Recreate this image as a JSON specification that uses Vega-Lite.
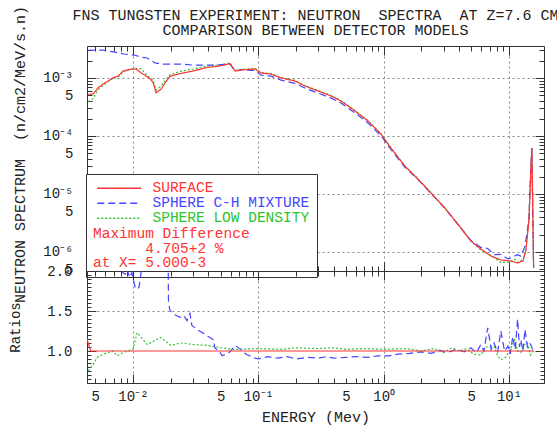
{
  "$schema": "https://vega.github.io/schema/vega-lite/v6.json",
  "background": "white",
  "padding": {"left": 8, "top": 5, "right": 5, "bottom": 1},
  "title": {
    "text": ["FNS TUNGSTEN EXPERIMENT: NEUTRON\u00a0\u00a0SPECTRA\u00a0\u00a0AT Z=7.6 CM", "COMPARISON BETWEEN DETECTOR MODELS"],
    "font": "Liberation Mono", "fontSize": 15, "fontWeight": "normal", "color": "#222",
    "anchor": "middle", "frame": "group", "offset": -33, "lineHeight": 15
  },
  "config": {
    "font": "Liberation Mono",
    "view": {"stroke": null},
    "axis": {
      "labelFont": "Liberation Mono", "labelFontSize": 14, "labelColor": "#222",
      "titleFont": "Liberation Mono", "titleFontSize": 15, "titleFontWeight": "normal", "titleColor": "#222",
      "tickColor": "#333", "domainColor": "#333", "gridColor": "#888", "gridDash": [2, 3], "gridWidth": 1,
      "labelOverlap": false, "labelFlush": false
    }
  },
  "bounds": "flush",
  "spacing": 0,
  "datasets": {
    "spectra": [
      {"E": 0.0044, "flux": 3.9e-4, "model": "SPHERE LOW DENSITY"},
      {"E": 0.0048, "flux": 4.4e-4, "model": "SPHERE LOW DENSITY"},
      {"E": 0.0053, "flux": 6.3e-4, "model": "SPHERE LOW DENSITY"},
      {"E": 0.0058, "flux": 7.5e-4, "model": "SPHERE LOW DENSITY"},
      {"E": 0.0063, "flux": 8.6e-4, "model": "SPHERE LOW DENSITY"},
      {"E": 0.0070, "flux": 1.0e-3, "model": "SPHERE LOW DENSITY"},
      {"E": 0.0076, "flux": 1.03e-3, "model": "SPHERE LOW DENSITY"},
      {"E": 0.0084, "flux": 1.29e-3, "model": "SPHERE LOW DENSITY"},
      {"E": 0.0094, "flux": 1.40e-3, "model": "SPHERE LOW DENSITY"},
      {"E": 0.0106, "flux": 1.46e-3, "model": "SPHERE LOW DENSITY"},
      {"E": 0.0116, "flux": 1.45e-3, "model": "SPHERE LOW DENSITY"},
      {"E": 0.0127, "flux": 1.17e-3, "model": "SPHERE LOW DENSITY"},
      {"E": 0.0137, "flux": 1.0e-3, "model": "SPHERE LOW DENSITY"},
      {"E": 0.0145, "flux": 9.0e-4, "model": "SPHERE LOW DENSITY"},
      {"E": 0.0153, "flux": 6.2e-4, "model": "SPHERE LOW DENSITY"},
      {"E": 0.0168, "flux": 7.3e-4, "model": "SPHERE LOW DENSITY"},
      {"E": 0.0181, "flux": 9.0e-4, "model": "SPHERE LOW DENSITY"},
      {"E": 0.0198, "flux": 1.15e-3, "model": "SPHERE LOW DENSITY"},
      {"E": 0.0238, "flux": 1.30e-3, "model": "SPHERE LOW DENSITY"},
      {"E": 0.0302, "flux": 1.43e-3, "model": "SPHERE LOW DENSITY"},
      {"E": 0.0383, "flux": 1.61e-3, "model": "SPHERE LOW DENSITY"},
      {"E": 0.0495, "flux": 1.68e-3, "model": "SPHERE LOW DENSITY"},
      {"E": 0.0595, "flux": 1.81e-3, "model": "SPHERE LOW DENSITY"},
      {"E": 0.0652, "flux": 1.35e-3, "model": "SPHERE LOW DENSITY"},
      {"E": 0.0728, "flux": 1.40e-3, "model": "SPHERE LOW DENSITY"},
      {"E": 0.0942, "flux": 1.46e-3, "model": "SPHERE LOW DENSITY"},
      {"E": 0.105, "flux": 1.25e-3, "model": "SPHERE LOW DENSITY"},
      {"E": 0.126, "flux": 1.19e-3, "model": "SPHERE LOW DENSITY"},
      {"E": 0.152, "flux": 1.02e-3, "model": "SPHERE LOW DENSITY"},
      {"E": 0.196, "flux": 9.1e-4, "model": "SPHERE LOW DENSITY"},
      {"E": 0.235, "flux": 7.4e-4, "model": "SPHERE LOW DENSITY"},
      {"E": 0.299, "flux": 6.1e-4, "model": "SPHERE LOW DENSITY"},
      {"E": 0.380, "flux": 5.0e-4, "model": "SPHERE LOW DENSITY"},
      {"E": 0.456, "flux": 4.1e-4, "model": "SPHERE LOW DENSITY"},
      {"E": 0.590, "flux": 2.75e-4, "model": "SPHERE LOW DENSITY"},
      {"E": 0.749, "flux": 1.85e-4, "model": "SPHERE LOW DENSITY"},
      {"E": 0.951, "flux": 1.10e-4, "model": "SPHERE LOW DENSITY"},
      {"E": 1.14, "flux": 6.3e-5, "model": "SPHERE LOW DENSITY"},
      {"E": 1.47, "flux": 3.1e-5, "model": "SPHERE LOW DENSITY"},
      {"E": 1.87, "flux": 1.85e-5, "model": "SPHERE LOW DENSITY"},
      {"E": 2.38, "flux": 1.06e-5, "model": "SPHERE LOW DENSITY"},
      {"E": 3.07, "flux": 5.8e-6, "model": "SPHERE LOW DENSITY"},
      {"E": 3.90, "flux": 3.05e-6, "model": "SPHERE LOW DENSITY"},
      {"E": 4.95, "flux": 1.55e-6, "model": "SPHERE LOW DENSITY"},
      {"E": 5.95, "flux": 1.08e-6, "model": "SPHERE LOW DENSITY"},
      {"E": 7.15, "flux": 8.8e-7, "model": "SPHERE LOW DENSITY"},
      {"E": 8.59, "flux": 6.6e-7, "model": "SPHERE LOW DENSITY"},
      {"E": 10.3, "flux": 6.7e-7, "model": "SPHERE LOW DENSITY"},
      {"E": 11.1, "flux": 7.5e-7, "model": "SPHERE LOW DENSITY"},
      {"E": 11.7, "flux": 6.6e-7, "model": "SPHERE LOW DENSITY"},
      {"E": 12.9, "flux": 7.4e-7, "model": "SPHERE LOW DENSITY"},
      {"E": 13.6, "flux": 1.08e-6, "model": "SPHERE LOW DENSITY"},
      {"E": 14.4, "flux": 3.5e-6, "model": "SPHERE LOW DENSITY"},
      {"E": 14.9, "flux": 2.5e-5, "model": "SPHERE LOW DENSITY"},
      {"E": 15.2, "flux": 6.3e-5, "model": "SPHERE LOW DENSITY"},
      {"E": 15.7, "flux": 5.3e-7, "model": "SPHERE LOW DENSITY"},

      {"E": 0.0044, "flux": 3.01e-3, "model": "SPHERE C-H MIXTURE"},
      {"E": 0.0058, "flux": 3.03e-3, "model": "SPHERE C-H MIXTURE"},
      {"E": 0.0070, "flux": 2.81e-3, "model": "SPHERE C-H MIXTURE"},
      {"E": 0.0085, "flux": 2.59e-3, "model": "SPHERE C-H MIXTURE"},
      {"E": 0.0102, "flux": 2.49e-3, "model": "SPHERE C-H MIXTURE"},
      {"E": 0.0115, "flux": 2.30e-3, "model": "SPHERE C-H MIXTURE"},
      {"E": 0.0130, "flux": 2.21e-3, "model": "SPHERE C-H MIXTURE"},
      {"E": 0.0150, "flux": 1.82e-3, "model": "SPHERE C-H MIXTURE"},
      {"E": 0.0170, "flux": 1.74e-3, "model": "SPHERE C-H MIXTURE"},
      {"E": 0.0240, "flux": 1.74e-3, "model": "SPHERE C-H MIXTURE"},
      {"E": 0.0300, "flux": 1.67e-3, "model": "SPHERE C-H MIXTURE"},
      {"E": 0.0450, "flux": 1.67e-3, "model": "SPHERE C-H MIXTURE"},
      {"E": 0.0595, "flux": 1.74e-3, "model": "SPHERE C-H MIXTURE"},
      {"E": 0.0652, "flux": 1.32e-3, "model": "SPHERE C-H MIXTURE"},
      {"E": 0.0728, "flux": 1.38e-3, "model": "SPHERE C-H MIXTURE"},
      {"E": 0.0942, "flux": 1.35e-3, "model": "SPHERE C-H MIXTURE"},
      {"E": 0.105, "flux": 1.12e-3, "model": "SPHERE C-H MIXTURE"},
      {"E": 0.126, "flux": 1.08e-3, "model": "SPHERE C-H MIXTURE"},
      {"E": 0.152, "flux": 9.2e-4, "model": "SPHERE C-H MIXTURE"},
      {"E": 0.196, "flux": 8.1e-4, "model": "SPHERE C-H MIXTURE"},
      {"E": 0.235, "flux": 6.7e-4, "model": "SPHERE C-H MIXTURE"},
      {"E": 0.299, "flux": 5.5e-4, "model": "SPHERE C-H MIXTURE"},
      {"E": 0.380, "flux": 4.5e-4, "model": "SPHERE C-H MIXTURE"},
      {"E": 0.456, "flux": 3.7e-4, "model": "SPHERE C-H MIXTURE"},
      {"E": 0.590, "flux": 2.5e-4, "model": "SPHERE C-H MIXTURE"},
      {"E": 0.749, "flux": 1.68e-4, "model": "SPHERE C-H MIXTURE"},
      {"E": 0.951, "flux": 1.01e-4, "model": "SPHERE C-H MIXTURE"},
      {"E": 1.14, "flux": 5.9e-5, "model": "SPHERE C-H MIXTURE"},
      {"E": 1.47, "flux": 2.92e-5, "model": "SPHERE C-H MIXTURE"},
      {"E": 1.87, "flux": 1.78e-5, "model": "SPHERE C-H MIXTURE"},
      {"E": 2.38, "flux": 1.03e-5, "model": "SPHERE C-H MIXTURE"},
      {"E": 3.07, "flux": 5.7e-6, "model": "SPHERE C-H MIXTURE"},
      {"E": 3.90, "flux": 3.0e-6, "model": "SPHERE C-H MIXTURE"},
      {"E": 4.95, "flux": 1.58e-6, "model": "SPHERE C-H MIXTURE"},
      {"E": 5.95, "flux": 1.2e-6, "model": "SPHERE C-H MIXTURE"},
      {"E": 6.76, "flux": 1.15e-6, "model": "SPHERE C-H MIXTURE"},
      {"E": 7.6, "flux": 9.0e-7, "model": "SPHERE C-H MIXTURE"},
      {"E": 8.6, "flux": 9.1e-7, "model": "SPHERE C-H MIXTURE"},
      {"E": 9.8, "flux": 7.6e-7, "model": "SPHERE C-H MIXTURE"},
      {"E": 10.7, "flux": 8.2e-7, "model": "SPHERE C-H MIXTURE"},
      {"E": 11.7, "flux": 9.0e-7, "model": "SPHERE C-H MIXTURE"},
      {"E": 12.4, "flux": 8.5e-7, "model": "SPHERE C-H MIXTURE"},
      {"E": 13.4, "flux": 1.25e-6, "model": "SPHERE C-H MIXTURE"},
      {"E": 14.4, "flux": 3.6e-6, "model": "SPHERE C-H MIXTURE"},
      {"E": 14.9, "flux": 2.5e-5, "model": "SPHERE C-H MIXTURE"},
      {"E": 15.2, "flux": 6.0e-5, "model": "SPHERE C-H MIXTURE"},
      {"E": 15.7, "flux": 5.3e-7, "model": "SPHERE C-H MIXTURE"},

      {"E": 0.0044, "flux": 5.23e-4, "model": "SURFACE"},
      {"E": 0.00482, "flux": 5.30e-4, "model": "SURFACE"},
      {"E": 0.00528, "flux": 6.81e-4, "model": "SURFACE"},
      {"E": 0.00579, "flux": 7.88e-4, "model": "SURFACE"},
      {"E": 0.00634, "flux": 8.88e-4, "model": "SURFACE"},
      {"E": 0.00695, "flux": 1.01e-3, "model": "SURFACE"},
      {"E": 0.00762, "flux": 1.08e-3, "model": "SURFACE"},
      {"E": 0.00835, "flux": 1.32e-3, "model": "SURFACE"},
      {"E": 0.00944, "flux": 1.41e-3, "model": "SURFACE"},
      {"E": 0.0106, "flux": 1.43e-3, "model": "SURFACE"},
      {"E": 0.0116, "flux": 1.23e-3, "model": "SURFACE"},
      {"E": 0.0127, "flux": 1.08e-3, "model": "SURFACE"},
      {"E": 0.0137, "flux": 9.61e-4, "model": "SURFACE"},
      {"E": 0.0145, "flux": 8.30e-4, "model": "SURFACE"},
      {"E": 0.0153, "flux": 5.58e-4, "model": "SURFACE"},
      {"E": 0.0168, "flux": 6.46e-4, "model": "SURFACE"},
      {"E": 0.0181, "flux": 8.30e-4, "model": "SURFACE"},
      {"E": 0.0198, "flux": 1.08e-3, "model": "SURFACE"},
      {"E": 0.0238, "flux": 1.19e-3, "model": "SURFACE"},
      {"E": 0.0302, "flux": 1.32e-3, "model": "SURFACE"},
      {"E": 0.0383, "flux": 1.51e-3, "model": "SURFACE"},
      {"E": 0.0495, "flux": 1.61e-3, "model": "SURFACE"},
      {"E": 0.0595, "flux": 1.77e-3, "model": "SURFACE"},
      {"E": 0.0652, "flux": 1.32e-3, "model": "SURFACE"},
      {"E": 0.0728, "flux": 1.37e-3, "model": "SURFACE"},
      {"E": 0.0942, "flux": 1.43e-3, "model": "SURFACE"},
      {"E": 0.105, "flux": 1.22e-3, "model": "SURFACE"},
      {"E": 0.126, "flux": 1.17e-3, "model": "SURFACE"},
      {"E": 0.152, "flux": 1.0e-3, "model": "SURFACE"},
      {"E": 0.196, "flux": 8.88e-4, "model": "SURFACE"},
      {"E": 0.235, "flux": 7.28e-4, "model": "SURFACE"},
      {"E": 0.299, "flux": 5.97e-4, "model": "SURFACE"},
      {"E": 0.380, "flux": 4.89e-4, "model": "SURFACE"},
      {"E": 0.456, "flux": 4.01e-4, "model": "SURFACE"},
      {"E": 0.590, "flux": 2.70e-4, "model": "SURFACE"},
      {"E": 0.749, "flux": 1.81e-4, "model": "SURFACE"},
      {"E": 0.951, "flux": 1.08e-4, "model": "SURFACE"},
      {"E": 1.14, "flux": 6.21e-5, "model": "SURFACE"},
      {"E": 1.47, "flux": 3.04e-5, "model": "SURFACE"},
      {"E": 1.87, "flux": 1.82e-5, "model": "SURFACE"},
      {"E": 2.38, "flux": 1.04e-5, "model": "SURFACE"},
      {"E": 3.07, "flux": 5.74e-6, "model": "SURFACE"},
      {"E": 3.90, "flux": 3.04e-6, "model": "SURFACE"},
      {"E": 4.95, "flux": 1.55e-6, "model": "SURFACE"},
      {"E": 5.95, "flux": 1.13e-6, "model": "SURFACE"},
      {"E": 7.15, "flux": 8.54e-7, "model": "SURFACE"},
      {"E": 8.59, "flux": 7.28e-7, "model": "SURFACE"},
      {"E": 10.3, "flux": 7.0e-7, "model": "SURFACE"},
      {"E": 11.7, "flux": 6.46e-7, "model": "SURFACE"},
      {"E": 12.9, "flux": 7.0e-7, "model": "SURFACE"},
      {"E": 13.6, "flux": 1.04e-6, "model": "SURFACE"},
      {"E": 14.4, "flux": 3.42e-6, "model": "SURFACE"},
      {"E": 14.9, "flux": 2.49e-5, "model": "SURFACE"},
      {"E": 15.2, "flux": 6.2e-5, "model": "SURFACE"},
      {"E": 15.7, "flux": 5.3e-7, "model": "SURFACE"}
    ],
    "ratios": [
      {"E": 0.0044, "ratio": 0.75, "model": "SPHERE LOW DENSITY"},
      {"E": 0.0048, "ratio": 0.83, "model": "SPHERE LOW DENSITY"},
      {"E": 0.0052, "ratio": 0.92, "model": "SPHERE LOW DENSITY"},
      {"E": 0.0058, "ratio": 0.96, "model": "SPHERE LOW DENSITY"},
      {"E": 0.0069, "ratio": 1.0, "model": "SPHERE LOW DENSITY"},
      {"E": 0.0075, "ratio": 0.94, "model": "SPHERE LOW DENSITY"},
      {"E": 0.0083, "ratio": 0.98, "model": "SPHERE LOW DENSITY"},
      {"E": 0.0100, "ratio": 1.02, "model": "SPHERE LOW DENSITY"},
      {"E": 0.0108, "ratio": 1.23, "model": "SPHERE LOW DENSITY"},
      {"E": 0.0130, "ratio": 1.08, "model": "SPHERE LOW DENSITY"},
      {"E": 0.0166, "ratio": 1.17, "model": "SPHERE LOW DENSITY"},
      {"E": 0.0200, "ratio": 1.07, "model": "SPHERE LOW DENSITY"},
      {"E": 0.0240, "ratio": 1.10, "model": "SPHERE LOW DENSITY"},
      {"E": 0.0305, "ratio": 1.08, "model": "SPHERE LOW DENSITY"},
      {"E": 0.0395, "ratio": 1.07, "model": "SPHERE LOW DENSITY"},
      {"E": 0.0500, "ratio": 1.04, "model": "SPHERE LOW DENSITY"},
      {"E": 0.0650, "ratio": 1.02, "model": "SPHERE LOW DENSITY"},
      {"E": 0.1, "ratio": 1.03, "model": "SPHERE LOW DENSITY"},
      {"E": 0.15, "ratio": 1.02, "model": "SPHERE LOW DENSITY"},
      {"E": 0.2, "ratio": 1.04, "model": "SPHERE LOW DENSITY"},
      {"E": 0.3, "ratio": 1.03, "model": "SPHERE LOW DENSITY"},
      {"E": 0.4, "ratio": 1.04, "model": "SPHERE LOW DENSITY"},
      {"E": 0.5, "ratio": 1.02, "model": "SPHERE LOW DENSITY"},
      {"E": 0.7, "ratio": 1.03, "model": "SPHERE LOW DENSITY"},
      {"E": 1.0, "ratio": 1.02, "model": "SPHERE LOW DENSITY"},
      {"E": 1.5, "ratio": 1.03, "model": "SPHERE LOW DENSITY"},
      {"E": 2.0, "ratio": 1.0, "model": "SPHERE LOW DENSITY"},
      {"E": 2.5, "ratio": 1.03, "model": "SPHERE LOW DENSITY"},
      {"E": 3.0, "ratio": 0.98, "model": "SPHERE LOW DENSITY"},
      {"E": 3.5, "ratio": 1.04, "model": "SPHERE LOW DENSITY"},
      {"E": 4.0, "ratio": 1.0, "model": "SPHERE LOW DENSITY"},
      {"E": 4.6, "ratio": 1.03, "model": "SPHERE LOW DENSITY"},
      {"E": 5.2, "ratio": 0.96, "model": "SPHERE LOW DENSITY"},
      {"E": 5.95, "ratio": 0.95, "model": "SPHERE LOW DENSITY"},
      {"E": 6.5, "ratio": 1.05, "model": "SPHERE LOW DENSITY"},
      {"E": 7.6, "ratio": 1.06, "model": "SPHERE LOW DENSITY"},
      {"E": 8.1, "ratio": 0.94, "model": "SPHERE LOW DENSITY"},
      {"E": 8.6, "ratio": 0.89, "model": "SPHERE LOW DENSITY"},
      {"E": 9.4, "ratio": 0.92, "model": "SPHERE LOW DENSITY"},
      {"E": 10.2, "ratio": 1.02, "model": "SPHERE LOW DENSITY"},
      {"E": 11.1, "ratio": 1.14, "model": "SPHERE LOW DENSITY"},
      {"E": 11.7, "ratio": 1.0, "model": "SPHERE LOW DENSITY"},
      {"E": 12.4, "ratio": 0.98, "model": "SPHERE LOW DENSITY"},
      {"E": 13.2, "ratio": 1.08, "model": "SPHERE LOW DENSITY"},
      {"E": 14.0, "ratio": 1.10, "model": "SPHERE LOW DENSITY"},
      {"E": 14.8, "ratio": 0.95, "model": "SPHERE LOW DENSITY"},
      {"E": 15.6, "ratio": 1.0, "model": "SPHERE LOW DENSITY"},

      {"E": 0.0044, "ratio": 5.7, "model": "SPHERE C-H MIXTURE"},
      {"E": 0.0060, "ratio": 4.5, "model": "SPHERE C-H MIXTURE"},
      {"E": 0.0075, "ratio": 3.2, "model": "SPHERE C-H MIXTURE"},
      {"E": 0.0080, "ratio": 2.6, "model": "SPHERE C-H MIXTURE"},
      {"E": 0.0083, "ratio": 1.98, "model": "SPHERE C-H MIXTURE"},
      {"E": 0.0087, "ratio": 1.96, "model": "SPHERE C-H MIXTURE"},
      {"E": 0.0090, "ratio": 2.02, "model": "SPHERE C-H MIXTURE"},
      {"E": 0.0094, "ratio": 1.92, "model": "SPHERE C-H MIXTURE"},
      {"E": 0.0098, "ratio": 1.98, "model": "SPHERE C-H MIXTURE"},
      {"E": 0.0104, "ratio": 1.80, "model": "SPHERE C-H MIXTURE"},
      {"E": 0.0108, "ratio": 1.77, "model": "SPHERE C-H MIXTURE"},
      {"E": 0.0112, "ratio": 1.80, "model": "SPHERE C-H MIXTURE"},
      {"E": 0.0116, "ratio": 1.98, "model": "SPHERE C-H MIXTURE"},
      {"E": 0.0118, "ratio": 2.3, "model": "SPHERE C-H MIXTURE"},
      {"E": 0.0150, "ratio": 2.6, "model": "SPHERE C-H MIXTURE"},
      {"E": 0.0190, "ratio": 2.6, "model": "SPHERE C-H MIXTURE"},
      {"E": 0.0192, "ratio": 1.60, "model": "SPHERE C-H MIXTURE"},
      {"E": 0.0198, "ratio": 1.50, "model": "SPHERE C-H MIXTURE"},
      {"E": 0.0218, "ratio": 1.45, "model": "SPHERE C-H MIXTURE"},
      {"E": 0.0238, "ratio": 1.42, "model": "SPHERE C-H MIXTURE"},
      {"E": 0.0255, "ratio": 1.44, "model": "SPHERE C-H MIXTURE"},
      {"E": 0.0270, "ratio": 1.38, "model": "SPHERE C-H MIXTURE"},
      {"E": 0.0285, "ratio": 1.47, "model": "SPHERE C-H MIXTURE"},
      {"E": 0.0295, "ratio": 1.32, "model": "SPHERE C-H MIXTURE"},
      {"E": 0.0324, "ratio": 1.27, "model": "SPHERE C-H MIXTURE"},
      {"E": 0.0356, "ratio": 1.23, "model": "SPHERE C-H MIXTURE"},
      {"E": 0.0390, "ratio": 1.19, "model": "SPHERE C-H MIXTURE"},
      {"E": 0.0440, "ratio": 1.14, "model": "SPHERE C-H MIXTURE"},
      {"E": 0.0450, "ratio": 1.04, "model": "SPHERE C-H MIXTURE"},
      {"E": 0.0495, "ratio": 0.98, "model": "SPHERE C-H MIXTURE"},
      {"E": 0.0515, "ratio": 0.94, "model": "SPHERE C-H MIXTURE"},
      {"E": 0.0585, "ratio": 0.98, "model": "SPHERE C-H MIXTURE"},
      {"E": 0.0655, "ratio": 1.07, "model": "SPHERE C-H MIXTURE"},
      {"E": 0.0720, "ratio": 1.02, "model": "SPHERE C-H MIXTURE"},
      {"E": 0.08, "ratio": 0.96, "model": "SPHERE C-H MIXTURE"},
      {"E": 0.09, "ratio": 0.92, "model": "SPHERE C-H MIXTURE"},
      {"E": 0.10, "ratio": 0.90, "model": "SPHERE C-H MIXTURE"},
      {"E": 0.12, "ratio": 0.93, "model": "SPHERE C-H MIXTURE"},
      {"E": 0.14, "ratio": 0.91, "model": "SPHERE C-H MIXTURE"},
      {"E": 0.17, "ratio": 0.93, "model": "SPHERE C-H MIXTURE"},
      {"E": 0.20, "ratio": 0.90, "model": "SPHERE C-H MIXTURE"},
      {"E": 0.25, "ratio": 0.92, "model": "SPHERE C-H MIXTURE"},
      {"E": 0.30, "ratio": 0.91, "model": "SPHERE C-H MIXTURE"},
      {"E": 0.35, "ratio": 0.93, "model": "SPHERE C-H MIXTURE"},
      {"E": 0.40, "ratio": 0.91, "model": "SPHERE C-H MIXTURE"},
      {"E": 0.50, "ratio": 0.92, "model": "SPHERE C-H MIXTURE"},
      {"E": 0.60, "ratio": 0.93, "model": "SPHERE C-H MIXTURE"},
      {"E": 0.75, "ratio": 0.92, "model": "SPHERE C-H MIXTURE"},
      {"E": 0.90, "ratio": 0.94, "model": "SPHERE C-H MIXTURE"},
      {"E": 1.1, "ratio": 0.94, "model": "SPHERE C-H MIXTURE"},
      {"E": 1.3, "ratio": 0.96, "model": "SPHERE C-H MIXTURE"},
      {"E": 1.6, "ratio": 0.97, "model": "SPHERE C-H MIXTURE"},
      {"E": 2.0, "ratio": 0.99, "model": "SPHERE C-H MIXTURE"},
      {"E": 2.4, "ratio": 0.97, "model": "SPHERE C-H MIXTURE"},
      {"E": 2.8, "ratio": 1.01, "model": "SPHERE C-H MIXTURE"},
      {"E": 3.2, "ratio": 0.98, "model": "SPHERE C-H MIXTURE"},
      {"E": 3.8, "ratio": 1.02, "model": "SPHERE C-H MIXTURE"},
      {"E": 4.4, "ratio": 0.99, "model": "SPHERE C-H MIXTURE"},
      {"E": 4.95, "ratio": 1.04, "model": "SPHERE C-H MIXTURE"},
      {"E": 5.5, "ratio": 0.98, "model": "SPHERE C-H MIXTURE"},
      {"E": 5.95, "ratio": 1.08, "model": "SPHERE C-H MIXTURE"},
      {"E": 6.3, "ratio": 1.0, "model": "SPHERE C-H MIXTURE"},
      {"E": 6.76, "ratio": 1.29, "model": "SPHERE C-H MIXTURE"},
      {"E": 7.2, "ratio": 1.02, "model": "SPHERE C-H MIXTURE"},
      {"E": 7.6, "ratio": 1.10, "model": "SPHERE C-H MIXTURE"},
      {"E": 8.1, "ratio": 0.98, "model": "SPHERE C-H MIXTURE"},
      {"E": 8.6, "ratio": 1.25, "model": "SPHERE C-H MIXTURE"},
      {"E": 9.2, "ratio": 1.0, "model": "SPHERE C-H MIXTURE"},
      {"E": 9.8, "ratio": 1.06, "model": "SPHERE C-H MIXTURE"},
      {"E": 10.2, "ratio": 0.96, "model": "SPHERE C-H MIXTURE"},
      {"E": 10.7, "ratio": 1.18, "model": "SPHERE C-H MIXTURE"},
      {"E": 11.2, "ratio": 1.02, "model": "SPHERE C-H MIXTURE"},
      {"E": 11.7, "ratio": 1.40, "model": "SPHERE C-H MIXTURE"},
      {"E": 12.1, "ratio": 1.05, "model": "SPHERE C-H MIXTURE"},
      {"E": 12.4, "ratio": 1.14, "model": "SPHERE C-H MIXTURE"},
      {"E": 12.9, "ratio": 1.0, "model": "SPHERE C-H MIXTURE"},
      {"E": 13.4, "ratio": 1.27, "model": "SPHERE C-H MIXTURE"},
      {"E": 14.0, "ratio": 1.05, "model": "SPHERE C-H MIXTURE"},
      {"E": 14.7, "ratio": 1.10, "model": "SPHERE C-H MIXTURE"},
      {"E": 15.6, "ratio": 1.0, "model": "SPHERE C-H MIXTURE"},

      {"E": 0.0043, "ratio": 1.15, "model": "SURFACE"},
      {"E": 0.0046, "ratio": 1.0, "model": "SURFACE"},
      {"E": 0.1, "ratio": 1.0, "model": "SURFACE"},
      {"E": 15.8, "ratio": 1.0, "model": "SURFACE"}
    ]
  },
  "vconcat": [
    {
      "width": 457,
      "height": 225,
      "layer": [
        {
          "data": {"name": "spectra"},
          "mark": {"type": "line", "strokeWidth": 1.2, "clip": true},
          "encoding": {
            "x": {
              "field": "E", "type": "quantitative",
              "scale": {"type": "log", "domain": [0.0043, 19], "nice": false},
              "axis": {
                "orient": "bottom", "title": null, "labels": false, "domain": true, "tickSize": -5,
                "values": [0.005, 0.006, 0.007, 0.008, 0.009, 0.01, 0.02, 0.03, 0.04, 0.05, 0.06, 0.07, 0.08, 0.09, 0.1, 0.2, 0.3, 0.4, 0.5, 0.6, 0.7, 0.8, 0.9, 1, 2, 3, 4, 5, 6, 7, 8, 9, 10],
                "grid": true,
                "gridOpacity": {"condition": {"test": "abs(log(datum.value)/LN10 - round(log(datum.value)/LN10)) < 0.001", "value": 1}, "value": 0}
              }
            },
            "y": {
              "field": "flux", "type": "quantitative",
              "scale": {"type": "log", "domain": [4.7e-7, 3.56e-3], "nice": false},
              "axis": {
                "orient": "left", "title": "NEUTRON SPECTRUM\u00a0\u00a0(n/cm2/MeV/s.n)", "titlePadding": 15, "titleY": 108,
                "domain": true, "tickSize": -5, "labelPadding": 19, "labelAlign": "right", "labelBaseline": "middle",
                "values": [5e-7, 6e-7, 7e-7, 8e-7, 9e-7, 1e-6, 2e-6, 3e-6, 4e-6, 5e-6, 6e-6, 7e-6, 8e-6, 9e-6, 1e-5, 2e-5, 3e-5, 4e-5, 5e-5, 6e-5, 7e-5, 8e-5, 9e-5, 1e-4, 2e-4, 3e-4, 4e-4, 5e-4, 6e-4, 7e-4, 8e-4, 9e-4, 1e-3, 2e-3, 3e-3],
                "labelExpr": "abs(log(datum.value)/LN10 - round(log(datum.value)/LN10)) < 0.001 ? '10' + ['⁻⁶','⁻⁵','⁻⁴','⁻³','⁻²','⁻¹','⁰','¹'][round(log(datum.value)/LN10) + 6] : (abs(datum.value / pow(10, floor(log(datum.value)/LN10 + 0.000001)) - 5) < 0.01 ? '5' : '')",
                "grid": true,
                "gridOpacity": {"condition": {"test": "abs(log(datum.value)/LN10 - round(log(datum.value)/LN10)) < 0.001", "value": 1}, "value": 0}
              }
            },
            "color": {
              "field": "model", "type": "nominal",
              "scale": {"domain": ["SURFACE", "SPHERE C-H MIXTURE", "SPHERE LOW DENSITY"], "range": ["#ff3333", "#4646ff", "#2ec42e"]},
              "legend": {
                "orient": "none", "legendX": -1, "legendY": 128, "direction": "vertical",
                "title": ["Maximum Difference", "\u200b\u00a0\u00a0\u00a0\u00a0\u00a0\u00a04.705+2 %", "at X= 5.000-3"],
                "titleOrient": "bottom", "titleAnchor": "start", "titleAlign": "left",
                "titleColor": "#ff3333", "titleFont": "Liberation Mono", "titleFontSize": 14.5, "titleFontWeight": "normal", "titleLineHeight": 14.5, "titlePadding": 2,
                "fillColor": "white", "strokeColor": "#333", "padding": 7,
                "symbolType": "M-4.4,0H4.4", "symbolSize": 100, "symbolStrokeWidth": 1.5, "symbolOffset": 19,
                "labelFont": "Liberation Mono", "labelFontSize": 14.5, "labelOffset": 26, "labelLimit": 0, "rowPadding": 0,
                "encode": {"labels": {"update": {"fill": {"signal": "datum.value === 'SURFACE' ? '#ff3333' : datum.value === 'SPHERE C-H MIXTURE' ? '#4646ff' : '#2ec42e'"}}}}
              }
            },
            "strokeDash": {
              "field": "model", "type": "nominal",
              "scale": {"domain": ["SURFACE", "SPHERE C-H MIXTURE", "SPHERE LOW DENSITY"], "range": [[1, 0], [7, 4], [2, 2]]},
              "legend": {
                "orient": "none", "legendX": -1, "legendY": 128, "direction": "vertical",
                "title": ["Maximum Difference", "\u200b\u00a0\u00a0\u00a0\u00a0\u00a0\u00a04.705+2 %", "at X= 5.000-3"],
                "titleOrient": "bottom", "titleAnchor": "start", "titleAlign": "left",
                "titleColor": "#ff3333", "titleFont": "Liberation Mono", "titleFontSize": 14.5, "titleFontWeight": "normal", "titleLineHeight": 14.5, "titlePadding": 2,
                "fillColor": "white", "strokeColor": "#333", "padding": 7,
                "symbolType": "M-4.4,0H4.4", "symbolSize": 100, "symbolStrokeWidth": 1.5, "symbolOffset": 19,
                "labelFont": "Liberation Mono", "labelFontSize": 14.5, "labelOffset": 26, "labelLimit": 0, "rowPadding": 0,
                "encode": {"labels": {"update": {"fill": {"signal": "datum.value === 'SURFACE' ? '#ff3333' : datum.value === 'SPHERE C-H MIXTURE' ? '#4646ff' : '#2ec42e'"}}}}
              }
            }
          }
        },
        {
          "data": {"name": "spectra"},
          "mark": {"type": "point", "opacity": 0, "clip": true},
          "encoding": {
            "x": {
              "field": "E", "type": "quantitative",
              "scale": {"type": "log", "domain": [0.0043, 19], "nice": false},
              "axis": {
                "orient": "top", "title": null, "labels": false, "grid": false, "domain": true, "tickSize": -5,
                "values": [0.005, 0.006, 0.007, 0.008, 0.009, 0.01, 0.02, 0.03, 0.04, 0.05, 0.06, 0.07, 0.08, 0.09, 0.1, 0.2, 0.3, 0.4, 0.5, 0.6, 0.7, 0.8, 0.9, 1, 2, 3, 4, 5, 6, 7, 8, 9, 10]
              }
            },
            "y": {
              "field": "flux", "type": "quantitative",
              "scale": {"type": "log", "domain": [4.7e-7, 3.56e-3], "nice": false},
              "axis": {
                "orient": "right", "title": null, "labels": false, "grid": false, "domain": true, "tickSize": -5,
                "values": [5e-7, 6e-7, 7e-7, 8e-7, 9e-7, 1e-6, 2e-6, 3e-6, 4e-6, 5e-6, 6e-6, 7e-6, 8e-6, 9e-6, 1e-5, 2e-5, 3e-5, 4e-5, 5e-5, 6e-5, 7e-5, 8e-5, 9e-5, 1e-4, 2e-4, 3e-4, 4e-4, 5e-4, 6e-4, 7e-4, 8e-4, 9e-4, 1e-3, 2e-3, 3e-3]
              }
            }
          }
        },
        {
          "data": {"name": "spectra"},
          "mark": {"type": "point", "opacity": 0, "clip": true},
          "encoding": {
            "x": {
              "field": "E", "type": "quantitative",
              "scale": {"type": "log", "domain": [0.0043, 19], "nice": false},
              "axis": {"orient": "bottom", "title": null, "labels": false, "grid": false, "domain": false, "tickSize": -9, "values": [0.01, 0.1, 1, 10]}
            },
            "y": {
              "field": "flux", "type": "quantitative",
              "scale": {"type": "log", "domain": [4.7e-7, 3.56e-3], "nice": false},
              "axis": {"orient": "left", "title": null, "labels": false, "grid": false, "domain": false, "tickSize": -9, "values": [1e-6, 1e-5, 1e-4, 1e-3]}
            }
          }
        },
        {
          "data": {"name": "spectra"},
          "mark": {"type": "point", "opacity": 0, "clip": true},
          "encoding": {
            "x": {
              "field": "E", "type": "quantitative",
              "scale": {"type": "log", "domain": [0.0043, 19], "nice": false},
              "axis": {"orient": "top", "title": null, "labels": false, "grid": false, "domain": false, "tickSize": -9, "values": [0.01, 0.1, 1, 10]}
            },
            "y": {
              "field": "flux", "type": "quantitative",
              "scale": {"type": "log", "domain": [4.7e-7, 3.56e-3], "nice": false},
              "axis": {"orient": "right", "title": null, "labels": false, "grid": false, "domain": false, "tickSize": -9, "values": [1e-6, 1e-5, 1e-4, 1e-3]}
            }
          }
        }
      ],
      "resolve": {"axis": {"x": "independent", "y": "independent"}}
    },
    {
      "width": 457,
      "height": 112,
      "layer": [
        {
          "data": {"name": "ratios"},
          "mark": {"type": "line", "strokeWidth": 1.2, "clip": true},
          "encoding": {
            "x": {
              "field": "E", "type": "quantitative",
              "scale": {"type": "log", "domain": [0.0043, 19], "nice": false},
              "axis": {
                "orient": "bottom", "title": "ENERGY (Mev)", "titlePadding": 6,
                "domain": true, "tickSize": -5, "labelPadding": 11, "labelAlign": "center", "labelBaseline": "top",
                "values": [0.005, 0.006, 0.007, 0.008, 0.009, 0.01, 0.02, 0.03, 0.04, 0.05, 0.06, 0.07, 0.08, 0.09, 0.1, 0.2, 0.3, 0.4, 0.5, 0.6, 0.7, 0.8, 0.9, 1, 2, 3, 4, 5, 6, 7, 8, 9, 10],
                "labelExpr": "abs(log(datum.value)/LN10 - round(log(datum.value)/LN10)) < 0.001 ? '10' + ['⁻⁶','⁻⁵','⁻⁴','⁻³','⁻²','⁻¹','⁰','¹'][round(log(datum.value)/LN10) + 6] : (abs(datum.value / pow(10, floor(log(datum.value)/LN10 + 0.000001)) - 5) < 0.01 ? '5' : '')",
                "grid": true,
                "gridOpacity": {"condition": {"test": "abs(log(datum.value)/LN10 - round(log(datum.value)/LN10)) < 0.001", "value": 1}, "value": 0}
              }
            },
            "y": {
              "field": "ratio", "type": "quantitative",
              "scale": {"domain": [0.6, 2.0], "nice": false, "zero": false},
              "axis": {
                "orient": "left", "title": "Ratios", "titlePadding": 24, "titleFontSize": 14,
                "domain": true, "tickSize": -4, "labelPadding": 19, "labelAlign": "right", "labelBaseline": "middle",
                "values": [0.6, 0.65, 0.7, 0.75, 0.8, 0.85, 0.9, 0.95, 1.0, 1.05, 1.1, 1.15, 1.2, 1.25, 1.3, 1.35, 1.4, 1.45, 1.5, 1.55, 1.6, 1.65, 1.7, 1.75, 1.8, 1.85, 1.9, 1.95, 2.0],
                "labelExpr": "(abs(datum.value*2 - round(datum.value*2)) < 0.001 && datum.value > 0.9) ? format(datum.value, '.1f') : ''",
                "grid": true,
                "gridOpacity": {"condition": {"test": "abs(datum.value - 1.5) < 0.001", "value": 1}, "value": 0}
              }
            },
            "color": {
              "field": "model", "type": "nominal",
              "scale": {"domain": ["SURFACE", "SPHERE C-H MIXTURE", "SPHERE LOW DENSITY"], "range": ["#ff3333", "#4646ff", "#2ec42e"]},
              "legend": null
            },
            "strokeDash": {
              "field": "model", "type": "nominal",
              "scale": {"domain": ["SURFACE", "SPHERE C-H MIXTURE", "SPHERE LOW DENSITY"], "range": [[1, 0], [7, 4], [2, 2]]},
              "legend": null
            }
          }
        },
        {
          "data": {"name": "ratios"},
          "mark": {"type": "point", "opacity": 0, "clip": true},
          "encoding": {
            "x": {
              "field": "E", "type": "quantitative",
              "scale": {"type": "log", "domain": [0.0043, 19], "nice": false},
              "axis": {
                "orient": "top", "title": null, "labels": false, "grid": false, "domain": true, "tickSize": -5,
                "values": [0.005, 0.006, 0.007, 0.008, 0.009, 0.01, 0.02, 0.03, 0.04, 0.05, 0.06, 0.07, 0.08, 0.09, 0.1, 0.2, 0.3, 0.4, 0.5, 0.6, 0.7, 0.8, 0.9, 1, 2, 3, 4, 5, 6, 7, 8, 9, 10]
              }
            },
            "y": {
              "field": "ratio", "type": "quantitative",
              "scale": {"domain": [0.6, 2.0], "nice": false, "zero": false},
              "axis": {
                "orient": "right", "title": null, "labels": false, "grid": false, "domain": true, "tickSize": -4,
                "values": [0.6, 0.65, 0.7, 0.75, 0.8, 0.85, 0.9, 0.95, 1.0, 1.05, 1.1, 1.15, 1.2, 1.25, 1.3, 1.35, 1.4, 1.45, 1.5, 1.55, 1.6, 1.65, 1.7, 1.75, 1.8, 1.85, 1.9, 1.95, 2.0]
              }
            }
          }
        },
        {
          "data": {"name": "ratios"},
          "mark": {"type": "point", "opacity": 0, "clip": true},
          "encoding": {
            "x": {
              "field": "E", "type": "quantitative",
              "scale": {"type": "log", "domain": [0.0043, 19], "nice": false},
              "axis": {"orient": "bottom", "title": null, "labels": false, "grid": false, "domain": false, "tickSize": -9, "values": [0.01, 0.1, 1, 10]}
            },
            "y": {
              "field": "ratio", "type": "quantitative",
              "scale": {"domain": [0.6, 2.0], "nice": false, "zero": false},
              "axis": {"orient": "left", "title": null, "labels": false, "grid": false, "domain": false, "tickSize": -9, "values": [1.0, 1.5, 2.0]}
            }
          }
        },
        {
          "data": {"name": "ratios"},
          "mark": {"type": "point", "opacity": 0, "clip": true},
          "encoding": {
            "x": {
              "field": "E", "type": "quantitative",
              "scale": {"type": "log", "domain": [0.0043, 19], "nice": false},
              "axis": {"orient": "top", "title": null, "labels": false, "grid": false, "domain": false, "tickSize": -9, "values": [0.01, 0.1, 1, 10]}
            },
            "y": {
              "field": "ratio", "type": "quantitative",
              "scale": {"domain": [0.6, 2.0], "nice": false, "zero": false},
              "axis": {"orient": "right", "title": null, "labels": false, "grid": false, "domain": false, "tickSize": -9, "values": [1.0, 1.5, 2.0]}
            }
          }
        }
      ],
      "resolve": {"axis": {"x": "independent", "y": "independent"}}
    }
  ],
  "resolve": {"legend": {"color": "independent", "strokeDash": "independent"}}
}
